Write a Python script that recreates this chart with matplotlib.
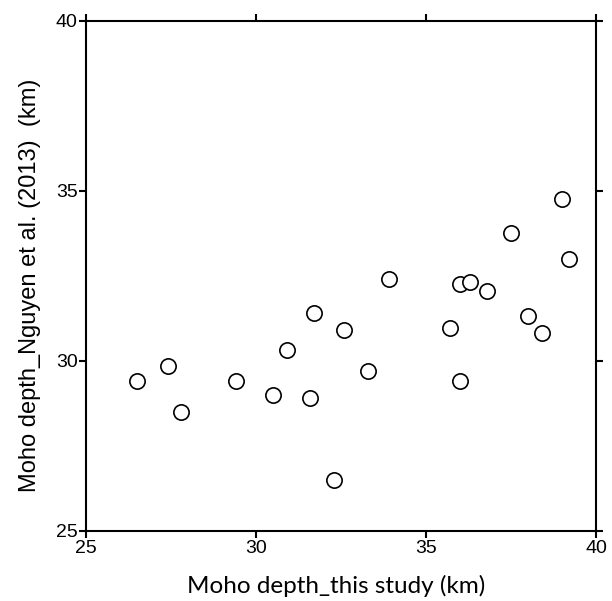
import matplotlib
matplotlib.use("Agg")
import matplotlib.pyplot as plt

this_study = [26.5, 27.4, 27.8, 29.4, 30.5, 30.9, 31.6, 31.7, 32.3, 32.6, 33.3, 33.9,
              35.7, 36.0, 36.3, 36.0, 36.8, 37.5, 38.0, 38.4, 39.0, 39.2]
nguyen = [29.4, 29.85, 28.5, 29.4, 29.0, 30.3, 28.9, 31.4, 26.5, 30.9, 29.7, 32.4,
          30.95, 32.25, 32.3, 29.4, 32.05, 33.75, 31.3, 30.8, 34.75, 33.0]
ticks = [25, 30, 35, 40]

fig = plt.figure(figsize=(6.12, 6.01), dpi=100)
ax = fig.add_axes([0.1405, 0.117, 0.8333, 0.8486])
ax.plot(this_study, nguyen, linestyle='none', marker='o', ms=11, mfc='white',
        mec='black', mew=1.2)
ax.set_xlim(25, 40)
ax.set_ylim(25, 40)
ax.set_xticks(ticks)
ax.set_yticks(ticks)
ax.tick_params(direction='out', length=5, width=1.5, top=True, right=True,
               labelsize=14, labeltop=False, labelright=False, pad=1)
ax.tick_params(axis='x', pad=2)
for lab in ax.get_xticklabels() + ax.get_yticklabels():
    lab.set_family('Liberation Sans')
for s in ax.spines.values():
    s.set_linewidth(1.5)
ax.set_xlabel('Moho depth_this study (km)', family='Lato', fontsize=17.5)
ax.set_ylabel('Moho depth_Nguyen et al. (2013)  (km)', family='Liberation Sans',
              fontsize=17)
ax.xaxis.set_label_coords(0.491, -0.087)
ax.yaxis.set_label_coords(-0.088, 0.482)
fig.savefig('out.png', dpi=100)
